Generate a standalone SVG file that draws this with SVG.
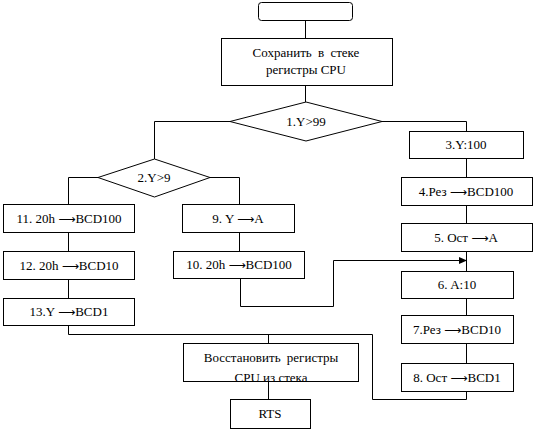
<svg xmlns="http://www.w3.org/2000/svg" width="536" height="431" viewBox="0 0 536 431">
<style>
.b{fill:#fff;stroke:#000;stroke-width:1}
.l{fill:none;stroke:#000;stroke-width:1}
.ar{font-family:'DejaVu Sans',sans-serif;font-size:12px}
</style>
<defs>
<marker id="ah" markerWidth="8" markerHeight="8" refX="7" refY="4" orient="auto" markerUnits="userSpaceOnUse">
<path d="M0,0.5 L8,4 L0,7.5 Z" fill="#000"/>
</marker>
<clipPath id="cv"><rect x="183" y="343" width="176" height="38"/></clipPath>
</defs>
<rect width="536" height="431" fill="#fff"/>
<g id="connectors">
<path class="l" d="M305.5,20 V38.5"/>
<path class="l" d="M305.5,86 V102"/>
<path class="l" d="M230,121.5 H154.5 V159"/>
<path class="l" d="M382,121.5 H466.5 V131"/>
<path class="l" d="M98,177.5 H68.5 V204"/>
<path class="l" d="M210,177.5 H239.5 V204"/>
<path class="l" d="M68.5,232 V251"/>
<path class="l" d="M68.5,279 V298"/>
<path class="l" d="M68.5,325 V334.5 H372.5 V399.5 H466.5 V392"/>
<path class="l" d="M268.5,334.5 V343"/>
<path class="l" d="M239.5,233 V251"/>
<path class="l" d="M240.5,278 V306.5 H333.5 V260.5 H466" marker-end="url(#ah)"/>
<path class="l" d="M466.5,158 V177"/>
<path class="l" d="M466.5,205 V223"/>
<path class="l" d="M466.5,251 V271"/>
<path class="l" d="M466.5,298 V315"/>
<path class="l" d="M466.5,343 V363"/>
<path class="l" d="M268.5,381 V399"/>
</g>
<g style="font-family:'Liberation Serif','DejaVu Serif',serif" font-size="13" text-anchor="middle" fill="#000">
<g id="start"><rect class="b" x="258.5" y="2.5" width="94" height="18" rx="3"/></g>
<g id="save"><rect class="b" x="221.5" y="38.5" width="171" height="47"/>
<text x="306" y="57" word-spacing="3">Сохранить в стеке</text>
<text x="306" y="74">регистры CPU</text></g>
<g id="d1"><polygon class="b" points="306,102 382,121.5 306,141 230,121.5"/><text x="306" y="126">1.Y&gt;99</text></g>
<g id="d2"><polygon class="b" points="154.5,159 210,177.5 154.5,197 98,177.5"/><text x="154" y="182">2.Y&gt;9</text></g>
<g id="n3"><rect class="b" x="409.5" y="131.5" width="114" height="27"/><text x="466" y="149">3.Y:100</text></g>
<g id="n4"><rect class="b" x="401.5" y="177.5" width="131" height="28"/><text x="466" y="196">4.Рез <tspan class="ar">⟶</tspan>BCD100</text></g>
<g id="n5"><rect class="b" x="401.5" y="223.5" width="131" height="28"/><text x="466" y="242">5. Ост <tspan class="ar">⟶</tspan>A</text></g>
<g id="n6"><rect class="b" x="401.5" y="271.5" width="112" height="27"/><text x="457" y="289">6. A:10</text></g>
<g id="n7"><rect class="b" x="401.5" y="315.5" width="112" height="28"/><text x="457" y="334">7.Рез <tspan class="ar">⟶</tspan>BCD10</text></g>
<g id="n8"><rect class="b" x="401.5" y="363.5" width="112" height="28"/><text x="457" y="382">8. Ост <tspan class="ar">⟶</tspan>BCD1</text></g>
<g id="n9"><rect class="b" x="182.5" y="204.5" width="112" height="28"/><text x="238" y="223">9. Y <tspan class="ar">⟶</tspan>A</text></g>
<g id="n10"><rect class="b" x="173.5" y="251.5" width="131" height="27"/><text x="239" y="269">10. 20h <tspan class="ar">⟶</tspan>BCD100</text></g>
<g id="n11"><rect class="b" x="3.5" y="204.5" width="131" height="28"/><text x="69" y="223">11. 20h <tspan class="ar">⟶</tspan>BCD100</text></g>
<g id="n12"><rect class="b" x="3.5" y="251.5" width="131" height="28"/><text x="69" y="270">12. 20h <tspan class="ar">⟶</tspan>BCD10</text></g>
<g id="n13"><rect class="b" x="3.5" y="298.5" width="131" height="27"/><text x="69" y="316">13.Y <tspan class="ar">⟶</tspan>BCD1</text></g>
<g id="restore"><rect class="b" x="183.5" y="343.5" width="175" height="38"/>
<text x="271" y="362" word-spacing="3">Восстановить регистры</text>
<text x="271" y="382" clip-path="url(#cv)">CPU из стека</text></g>
<g id="rts"><rect class="b" x="230.5" y="399.5" width="80" height="29"/><text x="270" y="418">RTS</text></g>
</g>
</svg>
